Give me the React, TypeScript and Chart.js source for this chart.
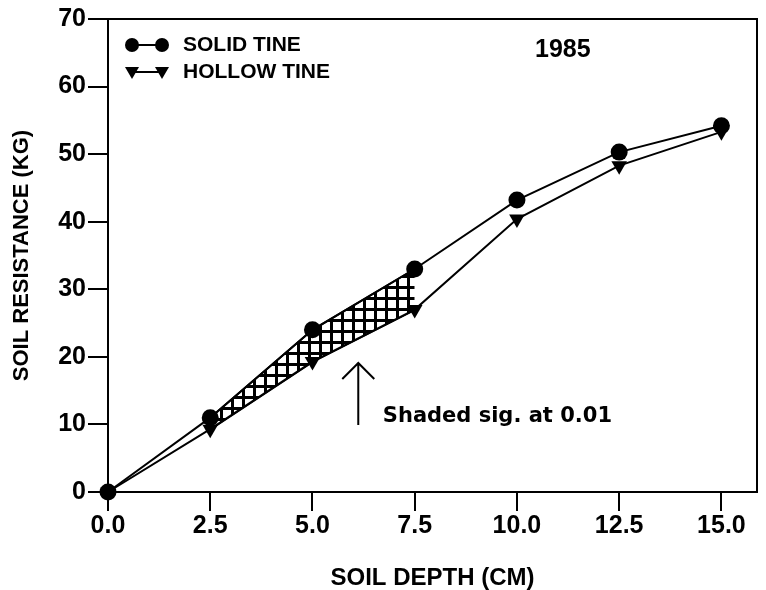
import React, { useEffect, useRef } from "react";
import { Chart, registerables } from "chart.js";

Chart.register(...registerables);

const depths = [0, 2.5, 5.0, 7.5, 10.0, 12.5, 15.0];
const solidTine = [0, 11, 24, 33, 43.2, 50.3, 54.2];
const hollowTine = [0, 9.3, 19.3, 27, 40.4, 48.3, 53.3];
const xTicks = [0, 2.5, 5.0, 7.5, 10.0, 12.5, 15.0];
const yTicks = [0, 10, 20, 30, 40, 50, 60, 70];
const shadeFrom = 1;
const shadeTo = 3;
const seriesNames = ["SOLID TINE", "HOLLOW TINE"];
const yearLabel = "1985";
const noteText = "Shaded sig. at 0.01";
const xTitle = "SOIL DEPTH (CM)";
const yTitle = "SOIL RESISTANCE (KG)";

const FONT = "'Liberation Sans', Arial, sans-serif";

function makePattern(): CanvasPattern | string {
  const c = document.createElement("canvas");
  c.width = 11;
  c.height = 11;
  const g = c.getContext("2d");
  if (!g) return "#000";
  g.fillStyle = "#fff";
  g.fillRect(0, 0, 11, 11);
  g.fillStyle = "#000";
  g.fillRect(0, 0, 11, 3);
  g.fillRect(0, 0, 3, 11);
  const p = g.createPattern(c, "repeat");
  return p || "#000";
}

const decorPlugin = {
  id: "decor",
  afterDraw(chart: any) {
    const { ctx, chartArea, scales } = chart;
    const { left, top, right, bottom } = chartArea;
    ctx.save();
    // top and right frame
    ctx.strokeStyle = "#000";
    ctx.lineWidth = 2;
    ctx.beginPath();
    ctx.moveTo(left - 20, top);
    ctx.lineTo(right, top);
    ctx.lineTo(right, bottom);
    ctx.stroke();

    // legend
    const lx1 = left + 24;
    const lx2 = left + 54;
    const ly1 = top + 26;
    const ly2 = top + 53;
    ctx.fillStyle = "#000";
    ctx.lineWidth = 2;
    ctx.beginPath();
    ctx.moveTo(lx1, ly1);
    ctx.lineTo(lx2, ly1);
    ctx.moveTo(lx1, ly2);
    ctx.lineTo(lx2, ly2);
    ctx.stroke();
    for (const x of [lx1, lx2]) {
      ctx.beginPath();
      ctx.arc(x, ly1, 7, 0, Math.PI * 2);
      ctx.fill();
      ctx.beginPath();
      ctx.moveTo(x - 7, ly2 - 5);
      ctx.lineTo(x + 7, ly2 - 5);
      ctx.lineTo(x, ly2 + 7);
      ctx.closePath();
      ctx.fill();
    }
    ctx.font = `bold 21px ${FONT}`;
    ctx.textBaseline = "middle";
    ctx.textAlign = "left";
    ctx.fillText(seriesNames[0], left + 75, ly1);
    ctx.fillText(seriesNames[1], left + 75, ly2);

    // year
    ctx.font = `bold 25px ${FONT}`;
    ctx.fillText(yearLabel, left + 427, top + 31);

    // arrow + note
    const xs = scales.x;
    const ys = scales.y;
    const ax = xs.getPixelForValue(6.12);
    const ay0 = ys.getPixelForValue(9.9);
    const ay1 = ys.getPixelForValue(19.1);
    ctx.lineWidth = 2;
    ctx.beginPath();
    ctx.moveTo(ax, ay0);
    ctx.lineTo(ax, ay1);
    ctx.moveTo(ax - 16, ay1 + 16);
    ctx.lineTo(ax, ay1);
    ctx.lineTo(ax + 16, ay1 + 16);
    ctx.stroke();
    ctx.font = `bold 21px 'DejaVu Sans', sans-serif`;
    ctx.fillText(noteText, xs.getPixelForValue(6.72), ys.getPixelForValue(11.1));
    ctx.restore();
  },
};

export default function App() {
  const ref = useRef<HTMLCanvasElement | null>(null);
  useEffect(() => {
    if (!ref.current) return;
    const pattern = makePattern();
    const pts = (ys: number[]) => depths.map((x, i) => ({ x, y: ys[i] }));
    const shadeUpper = pts(solidTine).slice(shadeFrom, shadeTo + 1);
    const shadeLower = pts(hollowTine).slice(shadeFrom, shadeTo + 1);
    const tickFont = { family: FONT, size: 25, weight: "bold" as const };
    const chart = new Chart(ref.current, {
      type: "line",
      data: {
        datasets: [
          {
            label: seriesNames[0],
            data: pts(solidTine),
            borderColor: "#000",
            backgroundColor: "#000",
            borderWidth: 2,
            pointStyle: "circle",
            pointRadius: 8.5,
            pointBorderWidth: 0,
            fill: false,
            clip: false as any,
          },
          {
            label: seriesNames[1],
            data: pts(hollowTine),
            borderColor: "#000",
            backgroundColor: "#000",
            borderWidth: 2,
            pointStyle: "triangle",
            pointRotation: 180,
            pointRadius: 9,
            pointBorderWidth: 0,
            fill: false,
            clip: false as any,
          },
          {
            label: "shadeUpper",
            data: shadeUpper,
            borderColor: "#000",
            borderWidth: 2,
            pointRadius: 0,
            backgroundColor: pattern as any,
            fill: "+1",
          },
          {
            label: "shadeLower",
            data: shadeLower,
            borderColor: "#000",
            borderWidth: 2.5,
            pointRadius: 0,
            fill: false,
          },
        ],
      },
      options: {
        animation: false,
        responsive: false,
        maintainAspectRatio: false,
        layout: { padding: { top: 19, right: 4, left: 0, bottom: 0 } },
        plugins: {
          legend: { display: false },
          tooltip: { enabled: false },
        },
        scales: {
          x: {
            type: "linear",
            min: 0,
            max: 15.87,
            afterFit: (s: any) => {
              s.height = 98;
            },
            afterBuildTicks: (s: any) => {
              s.ticks = xTicks.map((v) => ({ value: v }));
            },
            border: { display: true, color: "#000", width: 2 },
            grid: {
              display: true,
              drawOnChartArea: false,
              drawTicks: true,
              tickLength: 19,
              color: "#000",
              lineWidth: 2,
            },
            ticks: {
              color: "#000",
              font: tickFont,
              padding: 0,
              maxRotation: 0,
              autoSkip: false,
              callback: (v: any) => Number(v).toFixed(1),
            },
            title: {
              display: true,
              text: xTitle,
              color: "#000",
              font: { family: FONT, size: 24, weight: "bold", lineHeight: 1 },
              padding: { top: 0, bottom: 0 },
            },
          },
          y: {
            type: "linear",
            min: 0,
            max: 70,
            afterFit: (s: any) => {
              s.width = 108;
            },
            afterBuildTicks: (s: any) => {
              s.ticks = yTicks.map((v) => ({ value: v }));
            },
            border: { display: true, color: "#000", width: 2 },
            grid: {
              display: true,
              drawOnChartArea: false,
              drawTicks: true,
              tickLength: 20,
              color: "#000",
              lineWidth: 2,
            },
            ticks: {
              color: "#000",
              font: tickFont,
              padding: 2,
              autoSkip: false,
              callback: (v: any) => String(v),
            },
            title: {
              display: true,
              text: yTitle,
              color: "#000",
              font: { family: FONT, size: 22, weight: "bold", lineHeight: 1 },
              padding: { top: 11, bottom: 0 },
            },
          },
        },
      },
      plugins: [decorPlugin],
    });
    return () => chart.destroy();
  }, []);
  return (
    <div style={{ position: "fixed", left: 0, top: 0, width: 766, height: 590, background: "#fff" }}>
      <canvas ref={ref} width={766} height={590} style={{ width: 766, height: 590, display: "block" }} />
    </div>
  );
}
